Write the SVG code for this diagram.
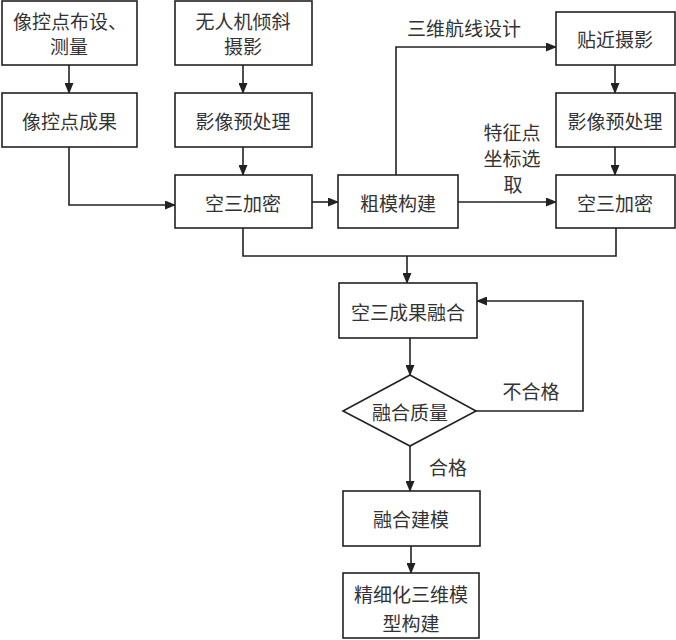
<svg xmlns="http://www.w3.org/2000/svg" width="676" height="640" viewBox="0 0 676 640">
<defs>
<marker id="arr" markerWidth="11" markerHeight="9" refX="10" refY="4.5" orient="auto" markerUnits="userSpaceOnUse">
<path d="M0,0 L11,4.5 L0,9 z" fill="#222"/>
</marker>
<style>
.box{fill:#fff;stroke:#222;stroke-width:1.6}
.t{font-family:"Noto Sans CJK SC","Noto Sans",sans-serif;font-size:19px;fill:#333;text-anchor:middle;dominant-baseline:central}
.c{fill:none;stroke:#222;stroke-width:1.6}
</style>
</defs>
<rect width="676" height="640" fill="#fff"/>
<g id="connectors">
<path class="c" d="M69 65 V93" marker-end="url(#arr)"/>
<path class="c" d="M243 65 V93" marker-end="url(#arr)"/>
<path class="c" d="M243 147 V175" marker-end="url(#arr)"/>
<path class="c" d="M69 147 V205 H175" marker-end="url(#arr)"/>
<path class="c" d="M312 202 H338" marker-end="url(#arr)"/>
<path class="c" d="M396 175 V47 H556" marker-end="url(#arr)"/>
<path class="c" d="M458 202 H556" marker-end="url(#arr)"/>
<path class="c" d="M615 65 V93" marker-end="url(#arr)"/>
<path class="c" d="M615 147 V175" marker-end="url(#arr)"/>
<path class="c" d="M243 228 V256 H616 V228"/>
<path class="c" d="M407 256 V283" marker-end="url(#arr)"/>
<path class="c" d="M410 338 V375" marker-end="url(#arr)"/>
<path class="c" d="M476 411 H583 V301 H477" marker-end="url(#arr)"/>
<path class="c" d="M410 446 V491" marker-end="url(#arr)"/>
<path class="c" d="M411 546 V573" marker-end="url(#arr)"/>
<text class="t" x="464" y="27">三维航线设计</text>
<text class="t" x="512" y="131">特征点</text>
<text class="t" x="512" y="157">坐标选</text>
<text class="t" x="513" y="183">取</text>
<text class="t" x="531" y="390">不合格</text>
<text class="t" x="448" y="466">合格</text>
</g>
<g id="n1"><rect class="box" x="2" y="1" width="135" height="64"/><text class="t" x="70" y="20">像控点布设、</text><text class="t" x="69" y="45">测量</text></g>
<g id="n2"><rect class="box" x="2" y="93" width="135" height="54"/><text class="t" x="69.5" y="120">像控点成果</text></g>
<g id="n3"><rect class="box" x="175" y="1" width="137" height="64"/><text class="t" x="243" y="20">无人机倾斜</text><text class="t" x="243" y="45">摄影</text></g>
<g id="n4"><rect class="box" x="175" y="93" width="137" height="54"/><text class="t" x="243" y="120">影像预处理</text></g>
<g id="n5"><rect class="box" x="175" y="175" width="137" height="53"/><text class="t" x="243" y="202">空三加密</text></g>
<g id="n6"><rect class="box" x="338" y="175" width="120" height="53"/><text class="t" x="398" y="202">粗模构建</text></g>
<g id="n7"><rect class="box" x="556" y="12" width="119" height="53"/><text class="t" x="615" y="38">贴近摄影</text></g>
<g id="n8"><rect class="box" x="556" y="93" width="119" height="54"/><text class="t" x="615" y="120">影像预处理</text></g>
<g id="n9"><rect class="box" x="556" y="175" width="119" height="53"/><text class="t" x="615" y="202">空三加密</text></g>
<g id="n10"><rect class="box" x="339" y="283" width="138" height="55"/><text class="t" x="408" y="311">空三成果融合</text></g>
<g id="n11"><polygon class="box" points="410,375 476,411 410,446 343,411"/><text class="t" x="410" y="411">融合质量</text></g>
<g id="n12"><rect class="box" x="343" y="491" width="137" height="55"/><text class="t" x="411" y="518">融合建模</text></g>
<g id="n13"><rect class="box" x="343" y="573" width="136" height="65"/><text class="t" x="411" y="593">精细化三维模</text><text class="t" x="411" y="622">型构建</text></g>
</svg>
